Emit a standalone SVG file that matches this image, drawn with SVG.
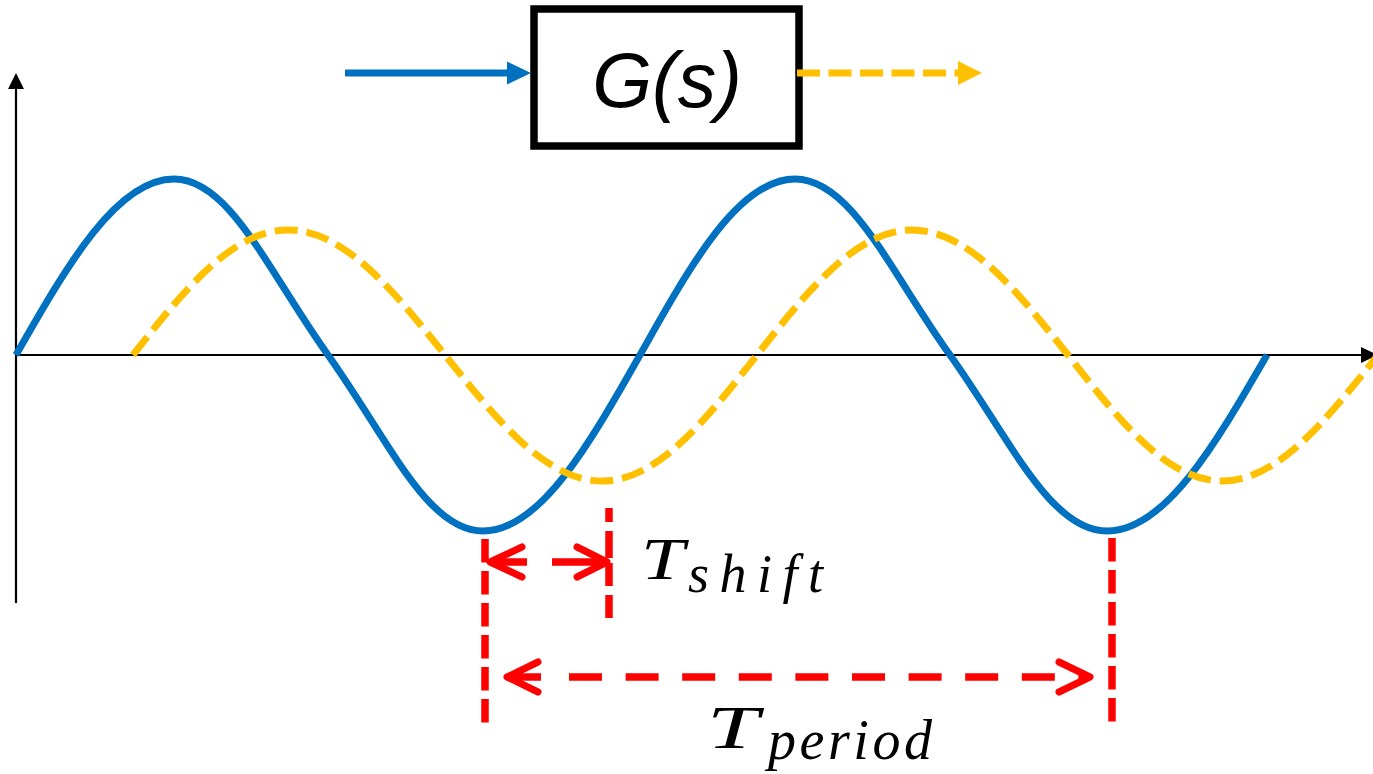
<svg xmlns="http://www.w3.org/2000/svg" width="1373" height="774" viewBox="0 0 1373 774">
  <style>
    .axis { stroke: #000; stroke-width: 2.2; fill: none; }
    .blue { stroke: #0070C0; stroke-width: 7; fill: none; stroke-linejoin: round; }
    .yellow { stroke: #FFC000; stroke-width: 7; fill: none; stroke-dasharray: 23 9; }
    .red { stroke: #FF0000; stroke-width: 7.5; fill: none; }
    .vdash { stroke-dasharray: 23.5 8.5; }
    .chev { stroke: #FF0000; stroke-width: 7; fill: none; stroke-linecap: round; stroke-linejoin: round; }
    .math { font-family: "Liberation Serif", "Times New Roman", serif; font-style: italic; fill: #000; }
    .label { font-family: "Liberation Sans", Arial, sans-serif; font-style: italic; fill: #000; }
  </style>
  <rect width="1373" height="774" fill="#fff"/>

  <g id="axes">
    <line class="axis" x1="16" y1="603" x2="16" y2="86"/>
    <polygon points="16,73 8,89 24,89" fill="#000"/>
    <line class="axis" x1="16" y1="355" x2="1362" y2="355"/>
    <polygon points="1378,355 1361,347 1361,363" fill="#000"/>
  </g>

  <g id="input-wave">
    <path class="blue" d="M16,355 C67.5,264.8 116.8,179 174,179 C229.7,179 268,271 328,355 C388,439 426.9,531 483,531 C539.8,531 588.8,445.2 640,355 C690.5,264.8 738.9,179 795,179 C851.1,179 890,271 950,355 C1010,439 1050.2,531 1107,531 C1164.9,531 1214.8,445.2 1267,355"/>
  </g>

  <g id="output-wave">
    <path class="yellow" d="M133,355 C183.5,291 231.9,230 288,230 C344.8,230 393.8,291 445,355 C496.2,419 545.2,481 602,481 C658.1,481 706.5,419 757,355 C807.5,291 855.9,230 912,230 C968.5,230 1017.1,291 1068,355 C1118.2,419 1166.3,481 1222,481 C1278.5,481 1327.1,419 1378,355"/>
  </g>

  <g id="block-G">
    <rect x="534" y="9" width="265" height="137" fill="#fff" stroke="#000" stroke-width="7.5"/>
    <text class="label" x="667" y="107" font-size="77" text-anchor="middle">G(s)</text>
  </g>

  <g id="connectors">
    <g id="input-arrow">
      <line x1="345" y1="73" x2="510" y2="73" stroke="#0070C0" stroke-width="7"/>
      <polygon points="531,73 507,61.5 507,84.5" fill="#0070C0"/>
    </g>
    <g id="output-arrow">
      <line x1="797" y1="73" x2="958" y2="73" stroke="#FFC000" stroke-width="7" stroke-dasharray="23 8.5"/>
      <polygon points="982,73 958,61 958,85" fill="#FFC000"/>
    </g>
  </g>

  <g id="shift-annotation">
    <line class="red" x1="609" y1="508" x2="609" y2="618" stroke-dasharray="14 9 27 5 23 9 23"/>
    <line class="red" x1="490" y1="562" x2="527" y2="562"/>
    <line class="red" x1="552" y1="562" x2="605" y2="562"/>
    <polyline class="chev" points="522,547 490,562 522,577"/>
    <polyline class="chev" points="577,547 607,562 577,577"/>
    <text class="math" font-size="60" transform="translate(641,579) scale(1.3,1)">T</text>
    <text class="math" x="688" y="592" font-size="54" textLength="135" lengthAdjust="spacing">shift</text>
  </g>

  <g id="period-annotation">
    <line class="red vdash" x1="485" y1="539" x2="485" y2="723"/>
    <line class="red vdash" x1="1112" y1="538" x2="1112" y2="723"/>
    <line class="red" x1="507" y1="677" x2="541" y2="677"/>
    <line class="red" x1="569" y1="677" x2="1088" y2="677" stroke-dasharray="33 23.6"/>
    <polyline class="chev" points="538,662 507,677 538,692"/>
    <polyline class="chev" points="1059,662 1090,677 1059,692"/>
    <text class="math" font-size="62" transform="translate(707,748) scale(1.5,1)">T</text>
    <text class="math" x="768" y="759" font-size="56" textLength="164" lengthAdjust="spacing">period</text>
  </g>
</svg>
